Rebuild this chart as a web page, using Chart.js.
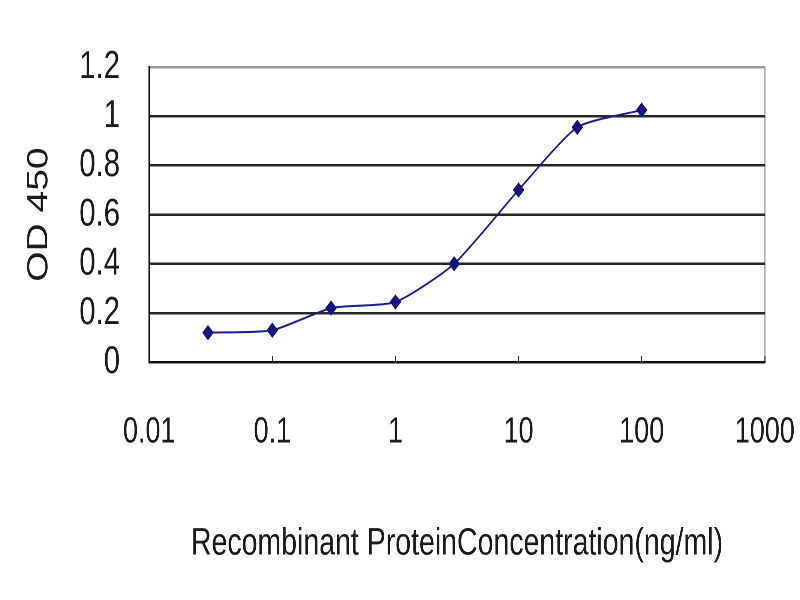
<!DOCTYPE html>
<html>
<head>
<meta charset="utf-8">
<script src="https://cdn.jsdelivr.net/npm/chart.js@4"></script>
<style>
html,body{margin:0;padding:0;background:#fff;overflow:hidden;width:800px;height:600px;}
#wrap{position:absolute;left:0;top:0;width:1067px;height:600px;transform:scaleX(0.74977);transform-origin:0 0;}
canvas{display:block;}
</style>
</head>
<body>
<div id="wrap"><canvas id="c" width="1067" height="600"></canvas></div>
<script>
const concentrations = [0.03, 0.1, 0.3, 1, 3, 10, 30, 100];
const od450 = [0.12, 0.13, 0.22, 0.245, 0.40, 0.70, 0.955, 1.025];
const xTickValues = [0.01, 0.1, 1, 10, 100, 1000];
const xTickLabels = ['0.01', '0.1', '1', '10', '100', '1000'];
const yTickValues = [0, 0.2, 0.4, 0.6, 0.8, 1, 1.2];
const yTickLabels = ['0', '0.2', '0.4', '0.6', '0.8', '1', '1.2'];
const xTitle = 'Recombinant ProteinConcentration(ng/ml)';
const yTitle = 'OD 450';

const FONT = "'Liberation Sans', Arial, sans-serif";
const points = concentrations.map((c, i) => ({x: c, y: od450[i]}));

new Chart(document.getElementById('c'), {
  type: 'line',
  data: {
    datasets: [{
      data: points,
      borderColor: '#1c1c8a',
      backgroundColor: '#14147f',
      borderWidth: 2,
      pointStyle: 'rectRot',
      pointRadius: 7,
      pointBorderWidth: 1,
      pointBorderColor: '#14147f',
      tension: 0.2,
      fill: false
    }]
  },
  options: {
    responsive: false,
    animation: false,
    devicePixelRatio: 2,
    layout: {padding: {left: 29, right: 0, top: 67, bottom: 33}},
    plugins: {legend: {display: false}, tooltip: {enabled: false}},
    scales: {
      x: {
        type: 'logarithmic',
        min: 0.01,
        max: 1000,
        afterBuildTicks: (axis) => { axis.ticks = xTickValues.map(v => ({value: v, major: true})); },
        afterFit: (axis) => { axis.paddingRight = 47; axis.paddingLeft = 0; },
        ticks: {
          autoSkip: false,
          maxRotation: 0,
          padding: 55,
          color: '#1a1a1a',
          font: {family: FONT, size: 36},
          callback: (v, i) => xTickLabels[i]
        },
        grid: {
          drawOnChartArea: true,
          drawTicks: true,
          tickLength: -6,
          lineWidth: 1.5,
          color: (ctx) => (ctx.tick && ctx.tick.value === 1000) ? '#9a9a9a' : 'rgba(0,0,0,0)',
          tickColor: '#222'
        },
        border: {display: true, color: '#111', width: 2},
        title: {
          display: true,
          text: xTitle,
          color: '#1a1a1a',
          font: {family: FONT, size: 38},
          padding: {top: 12, bottom: 0}
        }
      },
      y: {
        min: 0,
        max: 1.2,
        afterBuildTicks: (axis) => { axis.ticks = yTickValues.map(v => ({value: v})); },
        afterFit: (axis) => { axis.paddingTop = 0; axis.paddingBottom = 0; },
        ticks: {
          autoSkip: false,
          padding: 39,
          color: '#1a1a1a',
          font: {family: FONT, size: 39},
          callback: (v, i) => yTickLabels[i]
        },
        grid: {
          drawTicks: false,
          lineWidth: 2.5,
          color: (ctx) => (ctx.tick && ctx.tick.value === 1.2) ? '#9a9a9a' : '#262626'
        },
        border: {display: true, color: '#111', width: 2},
        title: {
          display: true,
          text: yTitle,
          color: '#1a1a1a',
          font: {family: FONT, size: 39},
          padding: {top: 0, bottom: -9}
        }
      }
    }
  }
});
</script>
</body>
</html>
